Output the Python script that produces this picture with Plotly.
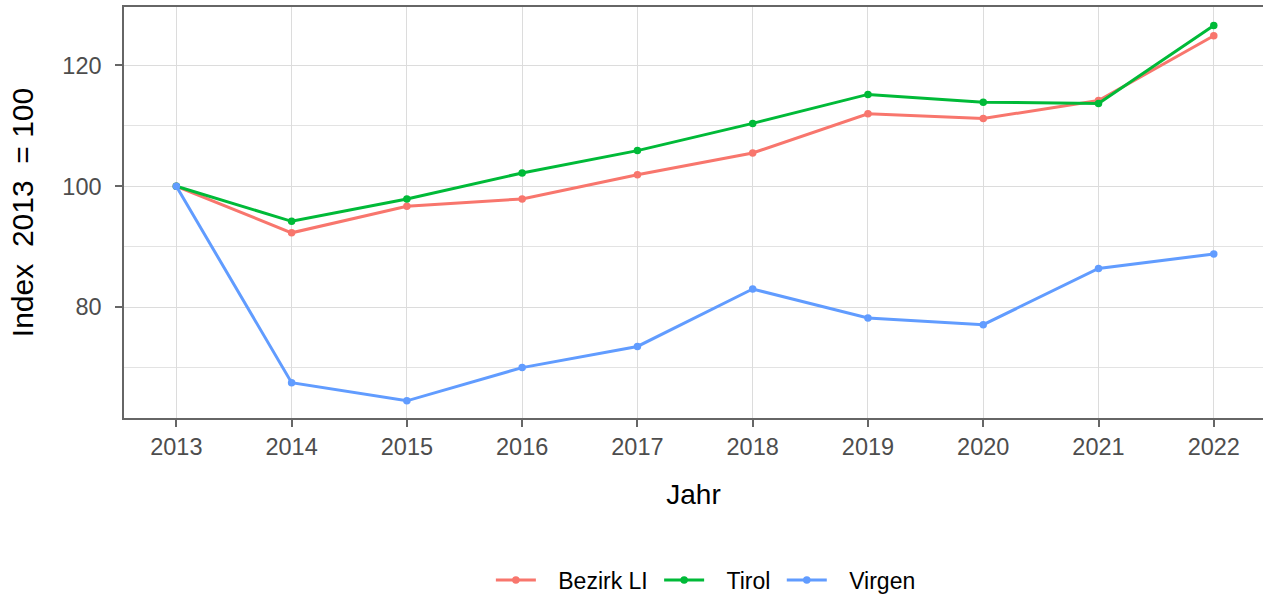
import plotly.graph_objects as go

years = [2013, 2014, 2015, 2016, 2017, 2018, 2019, 2020, 2021, 2022]
bezirk_li = [100, 92.3, 96.7, 97.9, 101.9, 105.5, 112.0, 111.2, 114.2, 124.9]
tirol = [100, 94.2, 97.9, 102.2, 105.9, 110.4, 115.2, 113.9, 113.7, 126.6]
virgen = [100, 67.5, 64.5, 70.0, 73.5, 83.0, 78.2, 77.1, 86.4, 88.8]

series = [("Bezirk LI", bezirk_li, "#F8766D"),
          ("Tirol", tirol, "#00BA38"),
          ("Virgen", virgen, "#619CFF")]

font_family = "Liberation Sans, Arial, sans-serif"
NB = "\u00a0"
TH = "\u2009"

fig = go.Figure()
for name, vals, col in series:
    fig.add_trace(go.Scatter(
        x=years, y=vals, name=NB * 2 + TH + name + NB, mode="lines+markers",
        line=dict(color=col, width=3),
        marker=dict(color=col, size=7.5),
    ))

fig.update_layout(
    width=1263, height=596,
    paper_bgcolor="white", plot_bgcolor="white",
    margin=dict(l=124, r=0, t=7, b=178, autoexpand=False),
    font=dict(family=font_family, size=22, color="black"),
    showlegend=True,
    legend=dict(orientation="h", x=0.5135, xanchor="center", y=-0.394, yanchor="middle",
                font=dict(size=23, color="black"), itemwidth=40),
)

fig.update_xaxes(
    range=[2012.546, 2022.427], tickmode="array", tickvals=years,
    ticktext=[str(y) for y in years], automargin=False,
    showgrid=True, gridcolor="#DCDCDC", gridwidth=1,
    zeroline=False, showline=True, linecolor="#666666", linewidth=1.5, mirror=True,
    ticks="outside", ticklen=7, tickcolor="#666666", tickwidth=1.5,
    tickfont=dict(size=23.5, color="#4D4D4D"),
    title=dict(text="Jahr", font=dict(size=28, color="black"), standoff=25),
)
fig.update_yaxes(
    range=[61.66, 129.66], tickmode="array", tickvals=[80, 100, 120],
    automargin=False,
    showgrid=True, gridcolor="#DCDCDC", gridwidth=1,
    minor=dict(tickmode="array", tickvals=[70, 90, 110], showgrid=True,
               gridcolor="#E3E3E3", gridwidth=1, ticks=""),
    zeroline=False, showline=True, linecolor="#666666", linewidth=1.5, mirror=True,
    ticks="outside", ticklen=7, tickcolor="#666666", tickwidth=1.5,
    ticklabelstandoff=9,
    tickfont=dict(size=23.5, color="#4D4D4D"),
    title=dict(text="Index  2013  = 100", font=dict(size=30, color="black"), standoff=20),
)

fig.write_html("out.html", post_script="document.body.style.margin='0';",
               config={"displayModeBar": False})
